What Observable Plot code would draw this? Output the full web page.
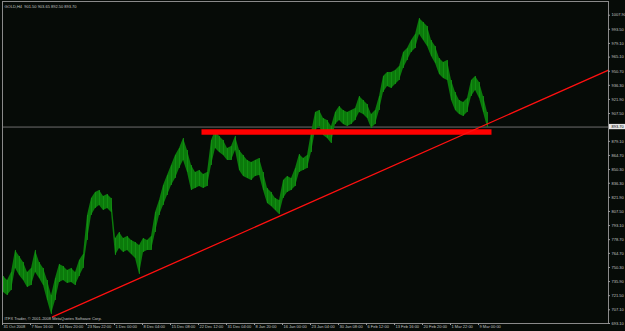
<!DOCTYPE html>
<html><head><meta charset="utf-8">
<script src="https://cdn.jsdelivr.net/npm/d3@7"></script>
<script src="https://cdn.jsdelivr.net/npm/@observablehq/plot@0.6"></script>
<style>html,body{margin:0;padding:0;background:#060b07;overflow:hidden}</style>
</head><body><div id="chart"></div>
<script>
const symbolTitle = "GOLD,H4  901.50 903.65 892.50 893.70";
const copyright = "ITFX Trader, \u00A9 2001-2008 MetaQuotes Software Corp.";

// H4 bar index (1 bar per pixel column), sampled
const bars = [1,5,9,13,17,21,25,29,33,37,
  41,45,49,53,57,61,65,69,73,77,
  81,85,89,93,97,101,105,109,113,117,
  121,125,129,133,137,141,145,149,153,157,
  161,165,169,173,177,181,185,189,193,197,
  201,205,209,213,217,221,225,229,233,237,
  241,245,249,253,257,261,265,269,273,277,
  281,285,289,293,297,301,305,309,313,317,
  321,325,329,333,337,341,345,349,353,357,
  361,365,369,373,377,381,385,389,393,397,
  401,405,409,413,417,421,425,429,433,437,
  441,445,449,453,457,461,465,469,473,477,
  481,485];
const highs = [741.1,737.0,745.2,767.7,761.5,755.4,745.2,749.3,767.7,755.4,
  749.3,737.0,721.7,739.1,753.4,751.3,747.2,749.3,745.2,757.5,
  763.6,803.4,820.8,826.9,828.9,822.8,824.8,820.8,779.9,786.0,
  779.9,782.0,777.9,775.8,772.8,779.9,777.9,782.0,806.5,818.7,
  834.0,844.2,854.4,864.7,871.8,882.0,869.8,854.4,847.3,849.3,
  845.3,847.3,880.0,890.2,884.1,880.0,871.8,873.8,884.1,869.8,
  864.7,859.6,857.5,859.6,861.6,847.3,831.0,826.9,820.8,818.7,
  839.1,843.2,841.2,851.4,865.7,861.6,864.7,888.1,908.6,910.6,
  902.4,900.4,894.3,908.6,914.7,910.6,908.6,910.6,912.6,924.9,
  920.8,916.7,906.5,910.6,924.9,945.3,949.4,949.4,951.4,955.5,
  969.8,973.9,982.1,988.2,1004.5,1000.5,996.4,982.1,975.9,963.7,
  959.6,961.6,941.2,929.0,920.8,918.8,922.9,941.2,945.3,939.2,
  924.9,908.6];
const lows = [724.8,721.7,726.8,749.3,742.1,737.0,729.9,731.9,745.2,739.1,
  731.9,716.6,702.3,716.6,735.0,737.0,734.0,735.0,731.9,741.1,
  749.3,777.9,803.4,810.5,813.6,808.5,810.5,806.5,762.6,769.7,
  765.6,767.7,763.6,759.5,743.2,765.6,767.7,767.7,786.0,803.4,
  813.6,823.8,834.0,841.2,851.4,859.6,847.3,828.9,831.0,833.0,
  831.0,833.0,854.4,871.8,867.7,864.7,859.6,859.6,869.8,849.3,
  843.2,841.2,839.1,843.2,844.2,828.9,815.6,812.6,808.5,804.4,
  820.8,826.9,828.9,833.0,847.3,849.3,851.4,867.7,890.2,894.3,
  885.1,882.0,876.9,896.3,900.4,896.3,894.3,896.3,900.4,908.6,
  906.5,902.4,892.2,896.3,910.6,929.0,935.1,933.1,937.1,941.2,
  953.5,961.6,969.8,973.9,988.2,982.1,975.9,965.7,958.6,947.4,
  943.3,941.2,920.8,910.6,906.5,904.5,908.6,924.9,931.0,922.9,
  908.6,893.2];

const xTickBars = [0,28,56,84,112,140,168,196,224,252,280,308,336,364,392,420,448,476];
const xTickLabels = ["31 Oct 2008","7 Nov 16:00","14 Nov 20:00","23 Nov 22:00","1 Dec 00:00",
  "8 Dec 04:00","15 Dec 08:00","22 Dec 12:00","31 Dec 04:00","8 Jan 20:00","16 Jan 00:00",
  "23 Jan 04:00","30 Jan 08:00","6 Feb 12:00","13 Feb 16:00","20 Feb 20:00","1 Mar 22:00","9 Mar 00:00"];

const yTickValues = [1007.9,993.5,979.1,965.1,950.7,936.3,921.9,907.5,879.1,864.7,850.3,
  836.3,821.9,807.5,793.1,778.7,764.7,750.3,735.9,721.5,707.1,693.1];
const yTickLabels = ["1007.90","993.50","979.10","965.10","950.70","936.30","921.90","907.50",
  "879.10","864.70","850.30","836.30","821.90","807.50","793.10","778.70","764.70","750.30",
  "735.90","721.50","707.10","693.10"];

const currentPrice = 893.70;
const supportLevel = 888.6;
const supportBars = [199, 489];
const trendBars = [50, 606];
const trendPrices = [699.8, 951.8];

const candles = bars.map((b, i) => ({bar: b, high: highs[i], low: lows[i]}));
const xTicks = xTickBars.map((b, i) => ({bar: b, label: xTickLabels[i]}));
const yTicks = yTickValues.map((v, i) => ({v, label: yTickLabels[i]}));
const support = supportBars.map(b => ({bar: b, price: supportLevel}));
const trend = trendBars.map((b, i) => ({bar: b, price: trendPrices[i]}));

const font = "Liberation Sans, Arial, sans-serif";
const chart = Plot.plot({
  width: 625, height: 331,
  marginTop: 1, marginBottom: 8, marginLeft: 2, marginRight: 17,
  x: {domain: [0, 606], axis: null},
  y: {domain: [693.1, 1021.9], axis: null},
  style: {background: "#060b07", fontFamily: font, color: "#c8c8c8", overflow: "visible"},
  marks: [
    Plot.ruleY([currentPrice], {stroke: "#6e6e6e", strokeWidth: 1}),
    Plot.areaY(candles, {x: "bar", y1: "low", y2: "high", fill: "#0b7a0b", curve: "linear"}),
    Plot.ruleX(candles, {x: "bar", y1: "low", y2: "high", stroke: "#149414", strokeWidth: 0.8}),
    Plot.line(support, {x: "bar", y: "price", stroke: "#ff0000", strokeWidth: 5.5, strokeLinecap: "butt"}),
    Plot.line(trend, {x: "bar", y: "price", stroke: "#ff1010", strokeWidth: 1.3}),
    Plot.frame({stroke: "#8a8a8a", strokeWidth: 1}),
    Plot.ruleY(yTicks, {y: "v", x1: 606, x2: 608, stroke: "#9a9a9a"}),
    Plot.text(yTicks, {y: "v", text: "label", frameAnchor: "right", dx: 3, textAnchor: "start",
      fill: "#c4c4c4", fontSize: 4, fontFamily: font}),
    Plot.rect([currentPrice], {x1: 607, x2: 623, y1: d => d - 2.7, y2: d => d + 2.7, fill: "#e6e6e6"}),
    Plot.text([currentPrice], {y: d => d, text: d => d.toFixed(2), frameAnchor: "right", dx: 3,
      textAnchor: "start", fill: "#000000", fontSize: 4, fontFamily: font}),
    Plot.ruleX(xTicks, {x: "bar", y1: 693.1, y2: 691.0, stroke: "#9a9a9a"}),
    Plot.text(xTicks, {x: "bar", text: "label", frameAnchor: "bottom", dy: 4.5, dx: 1,
      textAnchor: "start", fill: "#c4c4c4", fontSize: 4, fontFamily: font}),
    Plot.text([symbolTitle], {text: d => d, frameAnchor: "top-left", dx: 2, dy: 4,
      textAnchor: "start", fill: "#c4c4c4", fontSize: 4, fontFamily: font}),
    Plot.text([copyright], {text: d => d, frameAnchor: "bottom-left", dx: 2, dy: -4,
      textAnchor: "start", fill: "#c4c4c4", fontSize: 4, fontFamily: font})
  ]
});
document.getElementById("chart").appendChild(chart);
</script>
</body></html>
